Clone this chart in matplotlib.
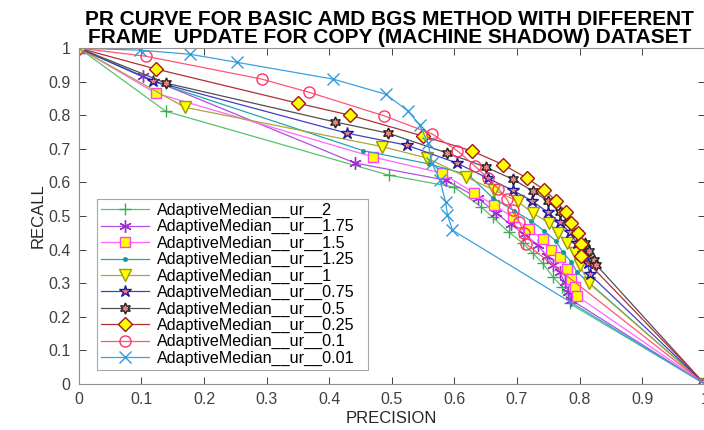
import matplotlib
matplotlib.use("Agg")
import matplotlib.pyplot as plt

plt.rcParams['font.family'] = ['Liberation Sans', 'DejaVu Sans']

labels = ["AdaptiveMedian__ur__2", "AdaptiveMedian__ur__1.75", "AdaptiveMedian__ur__1.5",
          "AdaptiveMedian__ur__1.25", "AdaptiveMedian__ur__1", "AdaptiveMedian__ur__0.75",
          "AdaptiveMedian__ur__0.5", "AdaptiveMedian__ur__0.25", "AdaptiveMedian__ur__0.1",
          "AdaptiveMedian__ur__0.01"]

# precision (x) / recall (y) per update rate
p_2 = [0, 0.139, 0.495, 0.600, 0.643, 0.661, 0.687, 0.709, 0.725, 0.741, 0.757, 0.772, 0.784, 1]
r_2 = [1, 0.812, 0.622, 0.586, 0.527, 0.497, 0.452, 0.420, 0.390, 0.360, 0.320, 0.290, 0.240, 0]

p_175 = [0, 0.102, 0.441, 0.586, 0.637, 0.666, 0.690, 0.712, 0.733, 0.748, 0.758, 0.768, 0.776, 0.782, 0.787, 1]
r_175 = [1, 0.917, 0.658, 0.607, 0.555, 0.510, 0.475, 0.446, 0.414, 0.381, 0.355, 0.333, 0.304, 0.275, 0.250, 0]

p_15 = [0, 0.123, 0.470, 0.580, 0.632, 0.663, 0.693, 0.719, 0.741, 0.755, 0.768, 0.780, 0.786, 0.792, 0.796, 1]
r_15 = [1, 0.866, 0.676, 0.628, 0.568, 0.533, 0.497, 0.461, 0.432, 0.400, 0.378, 0.342, 0.313, 0.289, 0.262, 0]

p_125 = [0, 0.120, 0.454, 0.560, 0.623, 0.661, 0.696, 0.723, 0.744, 0.762, 0.773, 0.787, 0.796, 1]
r_125 = [1, 0.900, 0.695, 0.655, 0.622, 0.555, 0.515, 0.485, 0.455, 0.426, 0.393, 0.363, 0.333, 0]

p_1 = [0, 0.169, 0.484, 0.556, 0.618, 0.663, 0.701, 0.725, 0.752, 0.765, 0.780, 0.792, 0.800, 0.815, 1]
r_1 = [1, 0.824, 0.707, 0.673, 0.617, 0.578, 0.544, 0.509, 0.479, 0.449, 0.420, 0.390, 0.354, 0.300, 0]

p_075 = [0, 0.118, 0.428, 0.524, 0.604, 0.653, 0.693, 0.724, 0.749, 0.768, 0.784, 0.796, 0.805, 0.813, 0.816, 1]
r_075 = [1, 0.902, 0.747, 0.711, 0.658, 0.613, 0.577, 0.545, 0.512, 0.482, 0.452, 0.420, 0.390, 0.360, 0.327, 0]

p_05 = [0, 0.139, 0.410, 0.494, 0.588, 0.650, 0.693, 0.725, 0.749, 0.768, 0.783, 0.797, 0.808, 0.815, 0.823, 0.827, 1]
r_05 = [1, 0.896, 0.780, 0.747, 0.688, 0.646, 0.610, 0.575, 0.545, 0.512, 0.482, 0.450, 0.420, 0.396, 0.370, 0.354, 0]

p_025 = [0, 0.123, 0.350, 0.434, 0.550, 0.628, 0.678, 0.716, 0.744, 0.762, 0.778, 0.787, 0.797, 0.802, 0.803, 1]
r_025 = [1, 0.938, 0.836, 0.800, 0.738, 0.694, 0.653, 0.613, 0.578, 0.546, 0.512, 0.480, 0.449, 0.417, 0.382, 0]

p_01 = [0, 0.107, 0.292, 0.367, 0.487, 0.565, 0.605, 0.633, 0.653, 0.670, 0.684, 0.693, 0.704, 0.712, 0.714, 1]
r_01 = [1, 0.976, 0.908, 0.869, 0.799, 0.744, 0.694, 0.649, 0.613, 0.582, 0.550, 0.518, 0.481, 0.449, 0.418, 0]

p_001 = [0, 0.098, 0.177, 0.252, 0.406, 0.490, 0.526, 0.545, 0.558, 0.564, 0.577, 0.586, 0.589, 0.597, 1]
r_001 = [1, 0.994, 0.982, 0.958, 0.908, 0.863, 0.813, 0.770, 0.717, 0.658, 0.607, 0.542, 0.503, 0.458, 0]

series = [(p_2, r_2), (p_175, r_175), (p_15, r_15), (p_125, r_125), (p_1, r_1),
          (p_075, r_075), (p_05, r_05), (p_025, r_025), (p_01, r_01), (p_001, r_001)]

styles = [
    dict(color='#55C46A', marker='+', mfc='#33B050', mec='#33B050', ms=9),
    dict(color='#B050E0', marker=(6, 2, 0), mfc='#9B30D0', mec='#9B30D0', ms=9),
    dict(color='#FF66FF', marker='s', mfc='#FFFF00', mec='#FF40FF', ms=7),
    dict(color='#20A8A8', marker='.', mfc='#159999', mec='#159999', ms=5),
    dict(color='#A8A838', marker='v', mfc='#FFFF00', mec='#999900', ms=9),
    dict(color='#4040C0', marker='*', mfc='#F08080', mec='#1A1A99', ms=9),
    dict(color='#505050', marker=(6, 1, 0), mfc='#F08080', mec='#222222', ms=8),
    dict(color='#B03030', marker='D', mfc='#FFFF00', mec='#A01515', ms=7),
    dict(color='#FF5577', marker='o', mfc='none', mec='#FF3366', ms=8),
    dict(color='#3AA0E0', marker='x', mfc='#3AA0E0', mec='#3399DD', ms=8),
]

fig = plt.figure(figsize=(7.04, 4.30), dpi=100)
ax = fig.add_axes([0.112, 0.107, 0.889, 0.781])

for (px, ry), lab, st in zip(series, labels, styles):
    ax.plot(px, ry, lw=0.9, mew=1.0, label=lab, **st)

ax.set_xlim(0, 1)
ax.set_ylim(0, 1)
ax.set_xticks([i / 10 for i in range(11)])
ax.set_yticks([i / 10 for i in range(11)])
ax.set_xticklabels(['0', '0.1', '0.2', '0.3', '0.4', '0.5', '0.6', '0.7', '0.8', '0.9', '1'])
ax.set_yticklabels(['0', '0.1', '0.2', '0.3', '0.4', '0.5', '0.6', '0.7', '0.8', '0.9', '1'])
ax.tick_params(direction='in', top=True, right=True, length=5, width=0.7,
               colors='#404040', labelsize=11.5, pad=6)
for s in ax.spines.values():
    s.set_color('#909090')
    s.set_linewidth(0.8)

ax.set_xlabel('PRECISION', fontsize=12, color='#262626', labelpad=3)
ax.set_ylabel('RECALL', fontsize=12, color='#262626', labelpad=2)
fig.text(0.553, 0.977, 'PR CURVE FOR BASIC AMD BGS METHOD WITH DIFFERENT\nFRAME  UPDATE FOR COPY (MACHINE SHADOW) DATASET',
         ha='center', va='top', fontsize=15, fontweight='bold', linespacing=0.95)

leg = ax.legend(loc='lower left', bbox_to_anchor=(0.029, 0.042, 0.433, 0.506), mode='expand',
                fontsize=11.6, frameon=True, fancybox=False, borderpad=0.25,
                labelspacing=0.08, handlelength=3.0, handletextpad=0.5, borderaxespad=0)
leg.get_frame().set_edgecolor('#909090')
leg.get_frame().set_linewidth(0.8)

fig.savefig('out.png', dpi=100)
